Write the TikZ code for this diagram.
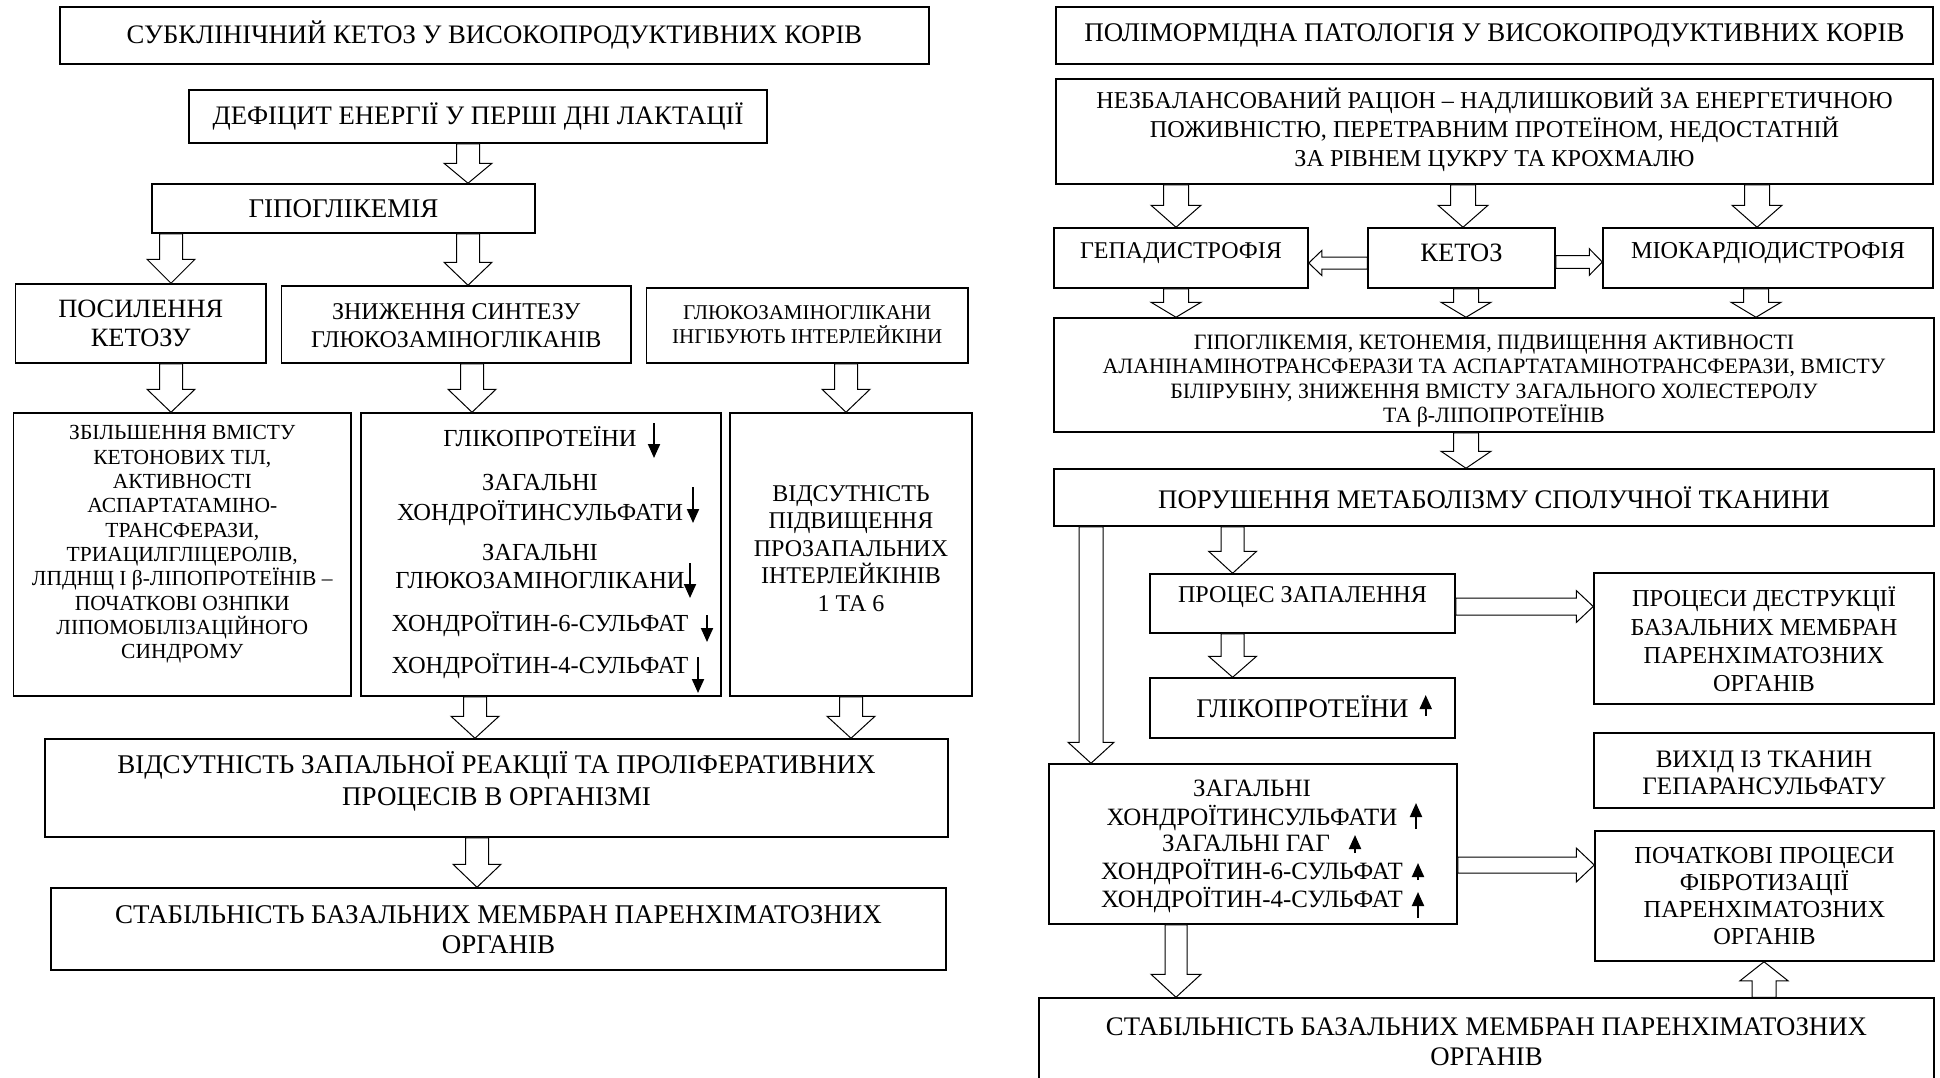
\documentclass[tikz,border=0pt]{standalone}
\usepackage{fontspec}
\setmainfont{Liberation Serif}
\usetikzlibrary{calc,arrows.meta}
\tikzset{
  bx/.style={draw, line width=1.5pt, inner sep=0pt},
  txt/.style={align=center, inner sep=0pt},
  blk/.style={draw, line width=1pt, fill=white, line join=miter},
  sm/.style={line width=2pt, -{Triangle[length=14pt,width=12pt]}},
}
\newcommand\fs[2]{\fontsize{#1}{#2}\selectfont}
% name, x1, y1, x2, y2, font, dy of text, text
\newcommand\mybox[8]{%
  \node[bx, minimum width={#4-#2}, minimum height={#5-#3}] (#1) at ({(#2+#4)/2},{(#3+#5)/2}) {};
  \node[txt, font={#6}] (#1t) at ($(#1.center)+(0,#7)$) {#8};}
% block arrow: start, tip, shaft half width, head half width, head length
\newcommand\blkar[5]{%
  \draw[blk] ($(#1)!#3!90:(#2)$) -- ($($(#2)!#5!(#1)$)!#3!90:(#2)$)
    -- ($($(#2)!#5!(#1)$)!#4!90:(#2)$) -- (#2)
    -- ($($(#2)!#5!(#1)$)!#4!-90:(#2)$) -- ($($(#2)!#5!(#1)$)!#3!-90:(#2)$)
    -- ($(#1)!#3!-90:(#2)$) -- cycle;}
\begin{document}
\begin{tikzpicture}[x=1pt,y=-1pt]
\clip (0,0) rectangle (1940,1077);
\fill[white] (0,0) rectangle (1940,1077);

% ---------------- left panel ----------------
\mybox{t1}{60}{7}{929}{64}{\fs{26.7}{30}}{0}{СУБКЛІНІЧНИЙ КЕТОЗ У ВИСОКОПРОДУКТИВНИХ КОРІВ}
\mybox{def}{189}{90}{767}{143}{\fs{26.7}{30}}{0}{ДЕФІЦИТ ЕНЕРГІЇ У ПЕРШІ ДНІ ЛАКТАЦІЇ}
\mybox{hypo}{152}{184}{535}{233}{\fs{27}{30}}{0}{ГІПОГЛІКЕМІЯ}
\mybox{posyl}{15.5}{284}{266}{363}{\fs{26.4}{29}}{0}{ПОСИЛЕННЯ\\КЕТОЗУ}
\mybox{znyzh}{281.5}{286}{631}{363}{\fs{24}{28}}{1}{ЗНИЖЕННЯ СИНТЕЗУ\\ГЛЮКОЗАМІНОГЛІКАНІВ}
\mybox{glinh}{646.5}{288}{968}{363}{\fs{21}{23.5}}{-1}{ГЛЮКОЗАМІНОГЛІКАНИ\\ІНГІБУЮТЬ ІНТЕРЛЕЙКІНИ}
\mybox{b1}{13.6}{413}{351}{696}{\fs{21.5}{24.3}}{-10}{ЗБІЛЬШЕННЯ ВМІСТУ\\КЕТОНОВИХ ТІЛ,\\АКТИВНОСТІ\\АСПАРТАТАМІНО-\\ТРАНСФЕРАЗИ,\\ТРИАЦИЛГЛІЦЕРОЛІВ,\\ЛПДНЩ І β-ЛІПОПРОТЕЇНІВ –\\ПОЧАТКОВІ ОЗНПКИ\\ЛІПОМОБІЛІЗАЦІЙНОГО\\СИНДРОМУ}
\mybox{b2}{361}{413}{721}{696}{\fs{24.5}{28}}{0}{}
\mybox{b3}{730}{413}{972}{696}{\fs{24}{27.5}}{-6}{ВІДСУТНІСТЬ\\ПІДВИЩЕННЯ\\ПРОЗАПАЛЬНИХ\\ІНТЕРЛЕЙКІНІВ\\1 ТА 6}
\mybox{vidz}{45}{739}{948}{837}{\fs{27}{32}}{-7}{ВІДСУТНІСТЬ ЗАПАЛЬНОЇ РЕАКЦІЇ ТА ПРОЛІФЕРАТИВНИХ\\ПРОЦЕСІВ В ОРГАНІЗМІ}
\mybox{stabL}{51}{888}{946}{970}{\fs{27}{30}}{1}{СТАБІЛЬНІСТЬ БАЗАЛЬНИХ МЕМБРАН ПАРЕНХІМАТОЗНИХ\\ОРГАНІВ}

% lines inside b2
\begin{scope}[every node/.style={txt, font=\fs{24.5}{28}, anchor=base}]
\node (g1) at (540,446.1) {ГЛІКОПРОТЕЇНИ};
\node (g2) at (540,490.1) {ЗАГАЛЬНІ};
\node (g3) at (540,520.1) {ХОНДРОЇТИНСУЛЬФАТИ};
\node (g4) at (540,560.1) {ЗАГАЛЬНІ};
\node (g5) at (540,588.1) {ГЛЮКОЗАМІНОГЛІКАНИ};
\node (g6) at (540,631.1) {ХОНДРОЇТИН-6-СУЛЬФАТ};
\node (g7) at (540,673.1) {ХОНДРОЇТИН-4-СУЛЬФАТ};
\end{scope}
\draw[sm] (654,423) -- (654,458);
\draw[sm] (693,487) -- (693,523);
\draw[sm] (690,563) -- (690,598);
\draw[sm] (707,615) -- (707,642);
\draw[sm] (698,657) -- (698,693);

\blkar{def.south -| 468,0}{hypo.north -| 468,0}{11.5pt}{24pt}{20pt}
\blkar{hypo.south -| 171,0}{posyl.north -| 171,0}{11.5pt}{24pt}{24pt}
\blkar{hypo.south -| 468,0}{znyzh.north -| 468,0}{11.5pt}{24pt}{23pt}
\blkar{posyl.south -| 171,0}{b1.north -| 171,0}{11.5pt}{24pt}{23pt}
\blkar{znyzh.south -| 472,0}{b2.north -| 472,0}{11.5pt}{24pt}{23pt}
\blkar{glinh.south -| 846,0}{b3.north -| 846,0}{11.5pt}{24pt}{23pt}
\blkar{b2.south -| 475,0}{vidz.north -| 475,0}{11.5pt}{24pt}{22pt}
\blkar{b3.south -| 851,0}{vidz.north -| 851,0}{11.5pt}{24pt}{22pt}
\blkar{vidz.south -| 477,0}{stabL.north -| 477,0}{11.5pt}{24pt}{23pt}

% ---------------- right panel ----------------
\mybox{t2}{1056}{7}{1933}{64}{\fs{26.9}{30}}{0}{ПОЛІМОРМІДНА ПАТОЛОГІЯ У ВИСОКОПРОДУКТИВНИХ КОРІВ}
\mybox{nezb}{1056}{79}{1933}{184}{\fs{24.2}{29}}{-2}{НЕЗБАЛАНСОВАНИЙ РАЦІОН – НАДЛИШКОВИЙ ЗА ЕНЕРГЕТИЧНОЮ\\ПОЖИВНІСТЮ, ПЕРЕТРАВНИМ ПРОТЕЇНОМ, НЕДОСТАТНІЙ\\ЗА РІВНЕМ ЦУКРУ ТА КРОХМАЛЮ}
\mybox{hepa}{1054}{228}{1308}{288}{\fs{24}{28}}{-5}{ГЕПАДИСТРОФІЯ}
\mybox{ketoz}{1368}{228}{1555}{288}{\fs{26.5}{28}}{-5}{КЕТОЗ}
\mybox{miok}{1603}{228}{1933}{288}{\fs{24.3}{28}}{-5}{МІОКАРДІОДИСТРОФІЯ}
\mybox{hypo2}{1054}{318}{1934}{432}{\fs{21.9}{24.5}}{6}{ГІПОГЛІКЕМІЯ, КЕТОНЕМІЯ, ПІДВИЩЕННЯ АКТИВНОСТІ\\АЛАНІНАМІНОТРАНСФЕРАЗИ ТА АСПАРТАТАМІНОТРАНСФЕРАЗИ, ВМІСТУ\\БІЛІРУБІНУ, ЗНИЖЕННЯ ВМІСТУ ЗАГАЛЬНОГО ХОЛЕСТЕРОЛУ\\ТА β-ЛІПОПРОТЕЇНІВ}
\mybox{porush}{1054}{469}{1934}{526}{\fs{26.8}{30}}{0}{ПОРУШЕННЯ МЕТАБОЛІЗМУ СПОЛУЧНОЇ ТКАНИНИ}
\mybox{proc}{1150}{574}{1455}{633}{\fs{24.1}{26}}{-6}{ПРОЦЕС ЗАПАЛЕННЯ}
\mybox{destr}{1594}{573}{1934}{704}{\fs{24.3}{28.3}}{1}{ПРОЦЕСИ ДЕСТРУКЦІЇ\\БАЗАЛЬНИХ МЕМБРАН\\ПАРЕНХІМАТОЗНИХ\\ОРГАНІВ}
\mybox{glik2}{1150}{678}{1455}{738}{\fs{26.9}{28}}{-1}{ГЛІКОПРОТЕЇНИ}
\mybox{vyhid}{1594}{733}{1934}{808}{\fs{25.1}{27}}{2}{ВИХІД ІЗ ТКАНИН\\ГЕПАРАНСУЛЬФАТУ}
\mybox{zag}{1049}{764}{1457}{924}{\fs{24.9}{27}}{0}{}
\mybox{poch}{1595}{831}{1934}{961}{\fs{24.4}{27.3}}{0}{ПОЧАТКОВІ ПРОЦЕСИ\\ФІБРОТИЗАЦІЇ\\ПАРЕНХІМАТОЗНИХ\\ОРГАНІВ}
\mybox{stabR}{1039}{998}{1934}{1090}{\fs{26.8}{30}}{-2}{СТАБІЛЬНІСТЬ БАЗАЛЬНИХ МЕМБРАН ПАРЕНХІМАТОЗНИХ\\ОРГАНІВ}

\begin{scope}[every node/.style={txt, font=\fs{24.9}{27}, anchor=base}]
\node (z1) at (1252,796.3) {ЗАГАЛЬНІ};
\node (z2) at (1252,825.3) {ХОНДРОЇТИНСУЛЬФАТИ};
\node (z3) at (1246,851.3) {ЗАГАЛЬНІ ГАГ};
\node (z4) at (1252,879.3) {ХОНДРОЇТИН-6-СУЛЬФАТ};
\node (z5) at (1252,907.3) {ХОНДРОЇТИН-4-СУЛЬФАТ};
\end{scope}
\draw[sm] (1425.7,716) -- (1425.7,695);
\draw[sm] (1416,829) -- (1416,803);
\draw[sm] (1355,853) -- (1355,835);
\draw[sm] (1418,880) -- (1418,863);
\draw[sm] (1418,918) -- (1418,892);

\blkar{nezb.south -| 1176,0}{hepa.north -| 1176,0}{12.5pt}{25pt}{22pt}
\blkar{nezb.south -| 1463,0}{ketoz.north -| 1463,0}{12.5pt}{25pt}{22pt}
\blkar{nezb.south -| 1757,0}{miok.north -| 1757,0}{12.5pt}{25pt}{22pt}
\blkar{hepa.south -| 1176,0}{hypo2.north -| 1176,0}{12.5pt}{25pt}{15pt}
\blkar{ketoz.south -| 1466,0}{hypo2.north -| 1466,0}{12.5pt}{25pt}{15pt}
\blkar{miok.south -| 1756,0}{hypo2.north -| 1756,0}{12.5pt}{25pt}{15pt}
\blkar{ketoz.west |- 0,263}{hepa.east |- 0,263}{6pt}{12.5pt}{13pt}
\blkar{ketoz.east |- 0,262}{miok.west |- 0,262}{6.3pt}{13.3pt}{13pt}
\blkar{hypo2.south -| 1466,0}{porush.north -| 1466,0}{12.5pt}{25pt}{17pt}
\blkar{porush.south -| 1232.6,0}{proc.north -| 1232.6,0}{11.5pt}{24pt}{22pt}
\blkar{porush.south -| 1091,0}{zag.north -| 1091,0}{12pt}{23pt}{21pt}
\blkar{proc.south -| 1232.6,0}{glik2.north -| 1232.6,0}{11.5pt}{24pt}{21pt}
\blkar{proc.east |- 0,606.5}{destr.west |- 0,606.5}{8.5pt}{16pt}{17pt}
\blkar{zag.east |- 0,865}{poch.west |- 0,865}{8pt}{17pt}{18pt}
\blkar{zag.south -| 1176,0}{stabR.north -| 1176,0}{11pt}{25pt}{23pt}
\blkar{stabR.north -| 1764,0}{poch.south -| 1764,0}{12pt}{24pt}{19pt}
\end{tikzpicture}
\end{document}
